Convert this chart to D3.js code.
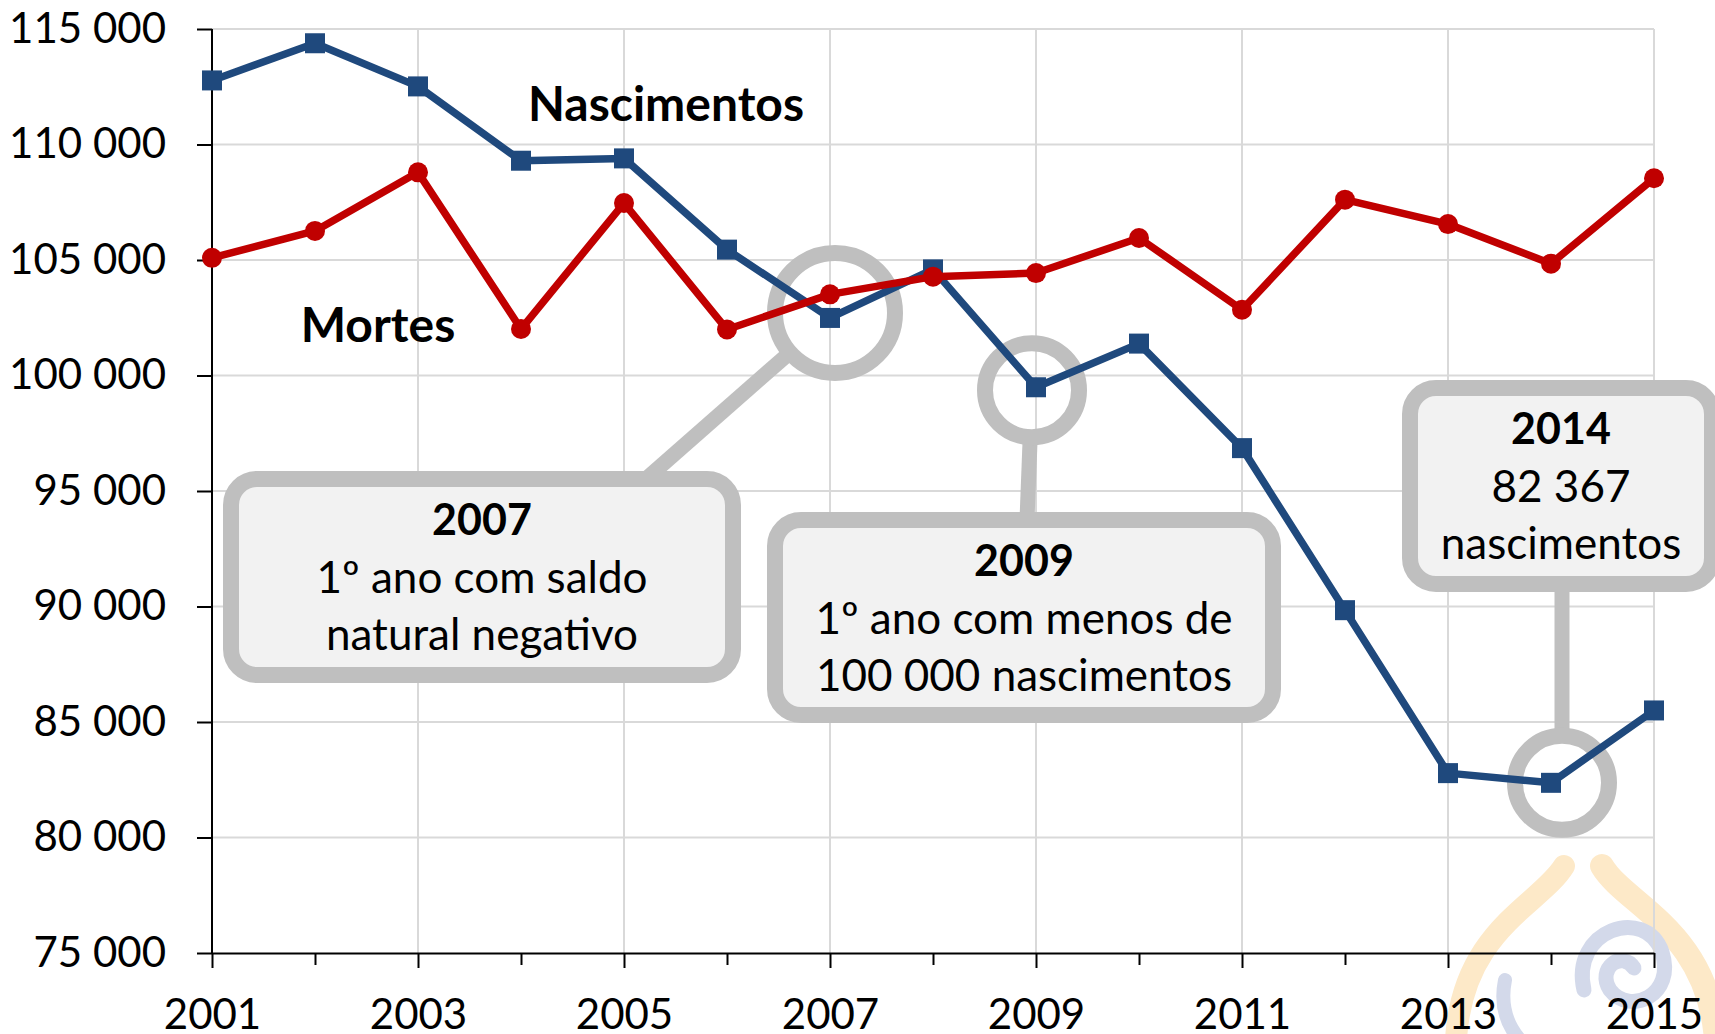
<!DOCTYPE html>
<html>
<head>
<meta charset="utf-8">
<title>Nascimentos e Mortes</title>
<style>
body { margin: 0; background: #fff; }
svg { display: block; font-family: Lato, "Open Sans", sans-serif; }
</style>
</head>
<body>
<div id="graphic"></div>
<script src="https://cdn.jsdelivr.net/npm/d3@7/dist/d3.min.js"></script>
<script>

var years = [2001, 2002, 2003, 2004, 2005, 2006, 2007, 2008, 2009, 2010, 2011, 2012, 2013, 2014, 2015];
var nascimentos = [112774, 114383, 112515, 109298, 109399, 105449, 102492, 104594, 99491, 101381, 96856, 89841, 82787, 82367, 85500];
var mortes = [105092, 106258, 108795, 102012, 107464, 101990, 103512, 104280, 104434, 105954, 102848, 107612, 106554, 104843, 108539];
var yTicks = [75000, 80000, 85000, 90000, 95000, 100000, 105000, 110000, 115000];
var xLabelYears = [2001, 2003, 2005, 2007, 2009, 2011, 2013, 2015];

// callout boxes: text and the point they mark
var callouts = [
    { year: 2007, title: "2007", lines: ["1º ano com saldo", "natural negativo"] },
    { year: 2009, title: "2009", lines: ["1º ano com menos de", "100 000 nascimentos"] },
    { year: 2014, title: "2014", lines: ["82 367", "nascimentos"] }
];
// layout of the callouts (pixels)
var calloutLayout = [
    { box: [231, 479, 502, 196], anchor: [646, 479], r: 60, dx: 5, dy: -5 },
    { box: [775, 520, 498, 195], anchor: [1027, 520], r: 47, dx: -4, dy: 3 },
    { box: [1410, 388, 302, 196], anchor: [1562, 584], r: 47, dx: 11, dy: 0 }
];

var w = 1715;
var h = 1034;
var margin = { top: 29, right: 61, bottom: 81, left: 212 };

var svg = d3.select("#graphic")
    .append("svg")
    .attr("width", w)
    .attr("height", h);

var x = d3.scaleLinear()
    .domain([2001, 2015])
    .range([margin.left, w - margin.right]);

var y = d3.scaleLinear()
    .domain([75000, 115000])
    .range([h - margin.bottom, margin.top]);

var pt = d3.formatLocale({ decimal: ",", thousands: " ", grouping: [3], currency: ["", ""] }).format(",d");

// watermark
var wm = svg.append("g").attr("fill", "none").attr("stroke-linecap", "round");
wm.append("path")
    .attr("d", "M1564,866 C1540,905 1462,930 1456,1040")
    .attr("stroke", "#fde9c8").attr("stroke-width", 22);
wm.append("path")
    .attr("d", "M1602,866 C1625,905 1708,930 1716,1040")
    .attr("stroke", "#fde9c8").attr("stroke-width", 24);
wm.append("path")
    .attr("d", "M1584,990 C1570,930 1645,905 1662,952 C1676,995 1630,1016 1610,990 C1596,968 1622,950 1634,968")
    .attr("stroke", "#d3d9ea").attr("stroke-width", 15);
wm.append("path")
    .attr("d", "M1505,980 C1500,1005 1506,1024 1520,1040")
    .attr("stroke", "#d3d9ea").attr("stroke-width", 14);

// grid
svg.append("g")
    .selectAll("line")
    .data(yTicks.slice(1))
    .enter().append("line")
    .attr("x1", x(2001))
    .attr("x2", x(2015))
    .attr("y1", function(d) { return y(d); })
    .attr("y2", function(d) { return y(d); })
    .attr("stroke", "#d9d9d9")
    .attr("stroke-width", 2);

svg.append("g")
    .selectAll("line")
    .data(xLabelYears.slice(1))
    .enter().append("line")
    .attr("x1", function(d) { return x(d); })
    .attr("x2", function(d) { return x(d); })
    .attr("y1", y(115000))
    .attr("y2", y(75000))
    .attr("stroke", "#d9d9d9")
    .attr("stroke-width", 2);

// callouts (rings, connectors, boxes)
var cg = svg.append("g");
callouts.forEach(function(c, i) {
    var L = calloutLayout[i];
    var v = nascimentos[years.indexOf(c.year)];
    var cx = x(c.year) + L.dx, cy = y(v) + L.dy;
    var ax = L.anchor[0], ay = L.anchor[1];
    var len = Math.sqrt((cx - ax) * (cx - ax) + (cy - ay) * (cy - ay));
    var ex = cx - (cx - ax) / len * L.r, ey = cy - (cy - ay) / len * L.r;

    cg.append("line")
        .attr("x1", ax).attr("y1", ay)
        .attr("x2", ex).attr("y2", ey)
        .attr("stroke", "#bfbfbf")
        .attr("stroke-width", 15);

    cg.append("circle")
        .attr("cx", cx).attr("cy", cy).attr("r", L.r)
        .attr("fill", "none")
        .attr("stroke", "#bfbfbf")
        .attr("stroke-width", 16);

    cg.append("rect")
        .attr("x", L.box[0]).attr("y", L.box[1])
        .attr("width", L.box[2]).attr("height", L.box[3])
        .attr("rx", 26).attr("ry", 26)
        .attr("fill", "#f2f2f2")
        .attr("stroke", "#bfbfbf")
        .attr("stroke-width", 16);

    var tx = L.box[0] + L.box[2] / 2;
    var top = L.box[1] - 8;
    cg.append("text")
        .attr("x", tx).attr("y", top + 64)
        .attr("text-anchor", "middle")
        .attr("font-weight", "bold")
        .attr("font-size", 43)
        .text(c.title);
    c.lines.forEach(function(t, j) {
        cg.append("text")
            .attr("x", tx).attr("y", top + 122 + j * 57)
            .attr("text-anchor", "middle")
            .attr("font-size", 44)
            .text(t);
    });
});

// axes
var yAxis = d3.axisLeft(y)
    .tickValues(yTicks)
    .tickSize(15)
    .tickPadding(31)
    .tickFormat(pt);

var gy = svg.append("g")
    .attr("transform", "translate(" + margin.left + ",0)")
    .call(yAxis);

var xAxis = d3.axisBottom(x)
    .tickValues(years)
    .tickSize(15)
    .tickSizeOuter(0)
    .tickFormat(function(d) { return xLabelYears.indexOf(d) >= 0 ? d : ""; });

var gx = svg.append("g")
    .attr("transform", "translate(0," + y(75000) + ")")
    .call(xAxis);

gx.selectAll(".tick line")
    .attr("y2", function(d) { return d % 2 === 1 ? 15 : 12; });
gx.selectAll(".tick text")
    .attr("y", 76)
    .attr("dy", 0);

[gx, gy].forEach(function(g) {
    g.selectAll("path, line").attr("stroke", "#000").attr("stroke-width", 2);
    g.selectAll("text")
        .attr("fill", "#000")
        .attr("font-size", 42)
        .attr("font-family", "Lato, sans-serif");
});
gy.select(".domain").attr("d", "M0," + y(115000) + "V" + y(75000));
gy.selectAll(".tick line").attr("x1", 0);

// series
var line = d3.line()
    .x(function(d, i) { return x(years[i]); })
    .y(function(d) { return y(d); });

svg.append("path")
    .datum(nascimentos)
    .attr("d", line)
    .attr("fill", "none")
    .attr("stroke", "#1f497d")
    .attr("stroke-width", 7.5)
    .attr("stroke-linejoin", "round");

svg.append("g")
    .selectAll("rect")
    .data(nascimentos)
    .enter().append("rect")
    .attr("x", function(d, i) { return x(years[i]) - 10; })
    .attr("y", function(d) { return y(d) - 10; })
    .attr("width", 20)
    .attr("height", 20)
    .attr("fill", "#1f497d");

svg.append("path")
    .datum(mortes)
    .attr("d", line)
    .attr("fill", "none")
    .attr("stroke", "#c00000")
    .attr("stroke-width", 7.5)
    .attr("stroke-linejoin", "round");

svg.append("g")
    .selectAll("circle")
    .data(mortes)
    .enter().append("circle")
    .attr("cx", function(d, i) { return x(years[i]); })
    .attr("cy", function(d) { return y(d); })
    .attr("r", 10)
    .attr("fill", "#c00000");

// series labels
svg.append("text")
    .attr("x", 666).attr("y", 121)
    .attr("text-anchor", "middle")
    .attr("font-weight", "bold")
    .attr("font-size", 48)
    .text("Nascimentos");

svg.append("text")
    .attr("x", 378).attr("y", 342)
    .attr("text-anchor", "middle")
    .attr("font-weight", "bold")
    .attr("font-size", 48)
    .text("Mortes");

</script>
</body>
</html>
